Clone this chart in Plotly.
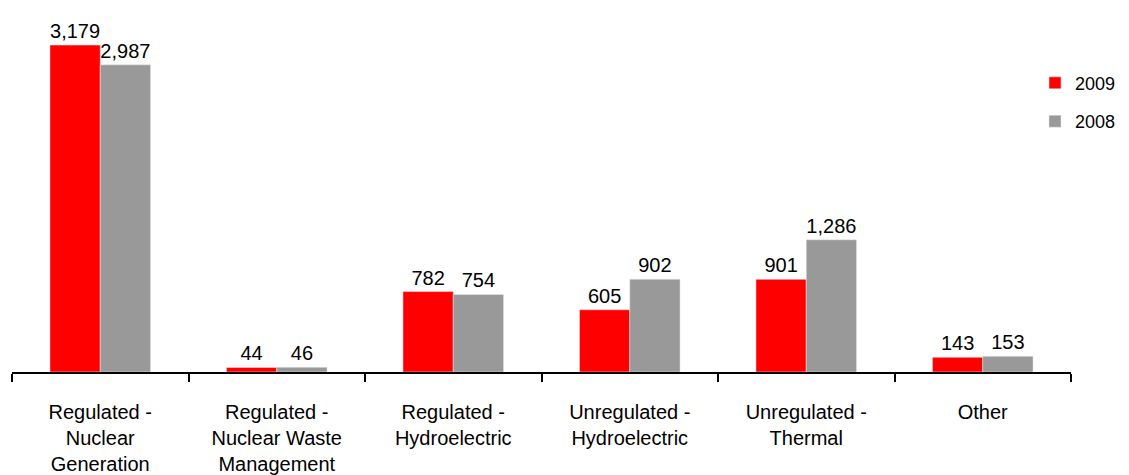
import plotly.graph_objects as go

categories = [
    "Regulated -<br>Nuclear<br>Generation",
    "Regulated -<br>Nuclear Waste<br>Management",
    "Regulated -<br>Hydroelectric",
    "Unregulated -<br>Hydroelectric",
    "Unregulated -<br>Thermal",
    "Other",
]
values_2009 = [3179, 44, 782, 605, 901, 143]
values_2008 = [2987, 46, 754, 902, 1286, 153]

FONT = "Liberation Sans, Arial, sans-serif"

fig = go.Figure()

fig.add_trace(go.Bar(
    x=categories, y=values_2009, name="2009",
    marker_color="#FF0000",
    text=[f"{v:,}" for v in values_2009],
    textposition="outside", cliponaxis=False,
    textfont=dict(size=20, color="#000000"),
    legendgroup="a",
))
fig.add_trace(go.Bar(
    x=categories, y=values_2008, name="2008",
    marker_color="#999999",
    text=[f"{v:,}" for v in values_2008],
    textposition="outside", cliponaxis=False,
    textfont=dict(size=20, color="#000000"),
    legendgroup="b",
))

# page body adds an 8px offset, margins are trimmed to make up for it
fig.update_layout(
    width=1121, height=467,
    barmode="group",
    bargap=0.43, bargroupgap=0,
    plot_bgcolor="white", paper_bgcolor="white",
    font=dict(family=FONT, size=20, color="#000000"),
    margin=dict(l=4, r=58, t=2, b=103, autoexpand=False),
    legend=dict(
        x=0.966, y=0.849, xanchor="left", yanchor="top",
        font=dict(size=18), tracegroupgap=12,
        itemwidth=30, bgcolor="rgba(0,0,0,0)",
    ),
    showlegend=True,
)
fig.update_xaxes(
    showline=True, linecolor="#000000", linewidth=2,
    ticks="outside", tickson="boundaries", ticklen=8, tickwidth=2,
    tickcolor="#000000", tickangle=0,
    ticklabelstandoff=21,
    tickfont=dict(size=20),
)
fig.update_yaxes(
    range=[0, 3520], visible=False, showgrid=False, zeroline=False,
)

fig.write_html("out.html")
